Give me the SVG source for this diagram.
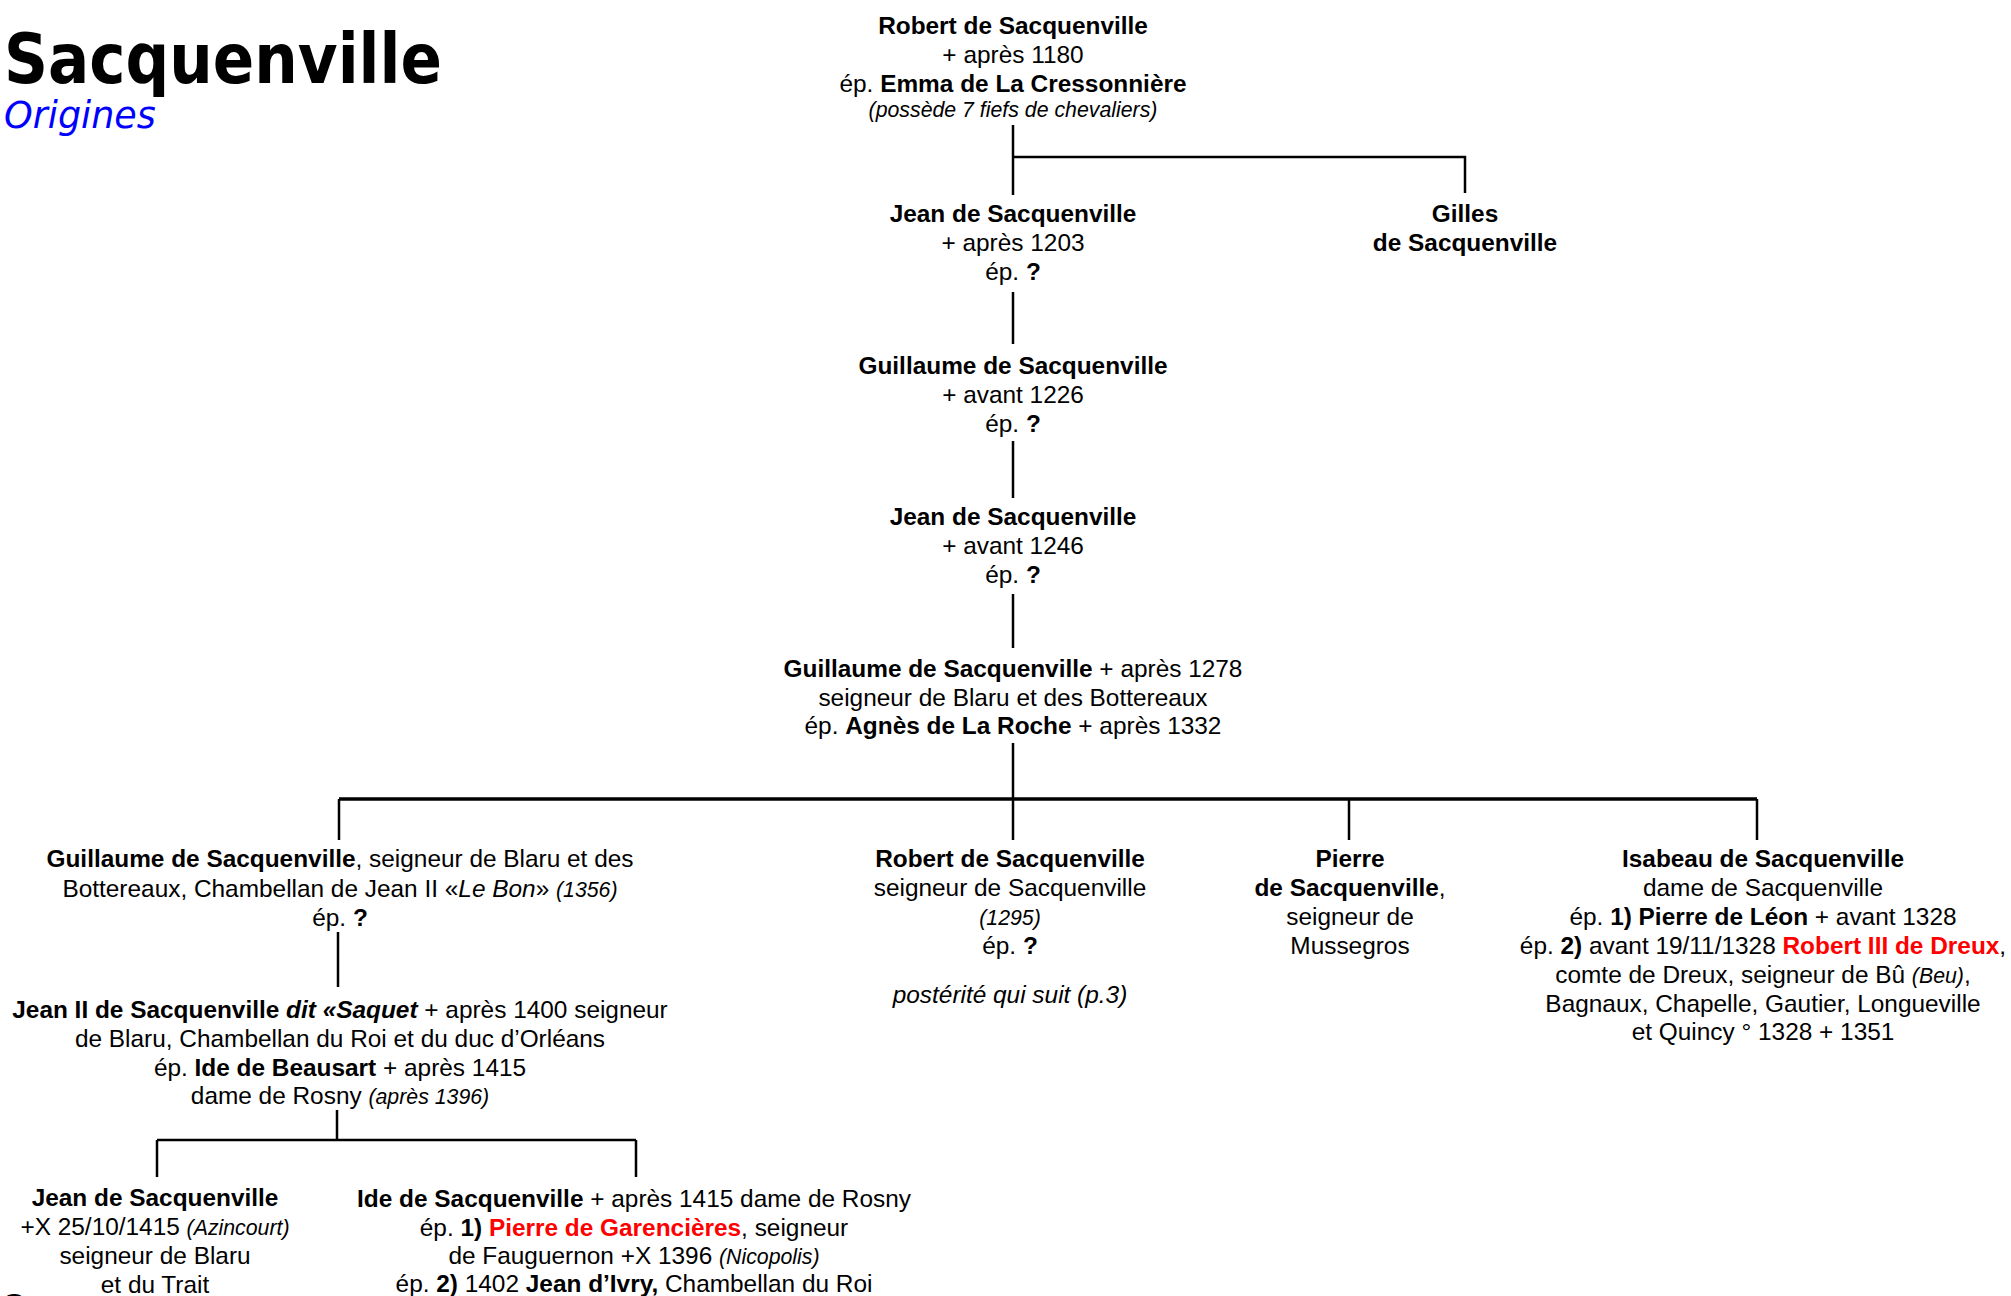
<svg xmlns="http://www.w3.org/2000/svg" width="2011" height="1296" viewBox="0 0 2011 1296">
<style>
text{font-family:"Liberation Sans",Arial,sans-serif;font-size:24.4px;fill:#000;text-anchor:middle}
.b{font-weight:bold}
.i{font-style:italic}
.s{font-size:21.3px;font-style:italic}
.r{fill:#ff0000;font-weight:bold}
.ln{stroke:#000;stroke-width:2.5;fill:none}
.title{font-family:"DejaVu Sans",Verdana,sans-serif;font-weight:bold;font-size:69px;text-anchor:start}
.sub{font-family:"DejaVu Sans",Verdana,sans-serif;font-style:italic;font-size:36.5px;fill:#0000ff;text-anchor:start}
</style>
<rect width="2011" height="1296" fill="#fff"/>
<g id="header">
<text class="title" x="4" y="83" textLength="438" lengthAdjust="spacingAndGlyphs">Sacquenville</text>
<text class="sub" x="4" y="128">Origines</text>
</g>
<g id="connectors">
<path class="ln" d="M1013 125V195M1013 157H1465V193"/>
<path class="ln" d="M1013 292V344"/>
<path class="ln" d="M1013 441V498"/>
<path class="ln" d="M1013 594V648"/>
<path class="ln" d="M1013 743V799"/>
<path d="M339 799H1757" stroke="#000" stroke-width="3.5"/>
<path class="ln" d="M339 799V840M1013 799V840M1349 799V840M1757 799V840"/>
<path class="ln" d="M338 932V987"/>
<path class="ln" d="M337 1110V1140M157 1140H636M157 1140V1177M636 1140V1177"/>
</g>
<g id="n-robert">
<text x="1013" y="34" class="b">Robert de Sacquenville</text>
<text x="1013" y="63">+ après 1180</text>
<text x="1013" y="92">ép. <tspan class="b">Emma de La Cressonnière</tspan></text>
<text x="1013" y="117" class="s">(possède 7 fiefs de chevaliers)</text>
</g>
<g id="n-jean1">
<text x="1013" y="222" class="b">Jean de Sacquenville</text>
<text x="1013" y="251">+ après 1203</text>
<text x="1013" y="280">ép. <tspan class="b">?</tspan></text>
</g>
<g id="n-gilles">
<text x="1465" y="222" class="b">Gilles</text>
<text x="1465" y="251" class="b">de Sacquenville</text>
</g>
<g id="n-guillaume1">
<text x="1013" y="374" class="b">Guillaume de Sacquenville</text>
<text x="1013" y="403">+ avant 1226</text>
<text x="1013" y="432">ép. <tspan class="b">?</tspan></text>
</g>
<g id="n-jean2">
<text x="1013" y="525" class="b">Jean de Sacquenville</text>
<text x="1013" y="554">+ avant 1246</text>
<text x="1013" y="583">ép. <tspan class="b">?</tspan></text>
</g>
<g id="n-guillaume2">
<text x="1013" y="677"><tspan class="b">Guillaume de Sacquenville</tspan> + après 1278</text>
<text x="1013" y="706">seigneur de Blaru et des Bottereaux</text>
<text x="1013" y="734">ép. <tspan class="b">Agnès de La Roche</tspan> + après 1332</text>
</g>
<g id="n-guillaume3">
<text x="340" y="867"><tspan class="b">Guillaume de Sacquenville</tspan>, seigneur de Blaru et des</text>
<text x="340" y="897">Bottereaux, Chambellan de Jean II «<tspan class="i">Le Bon</tspan>» <tspan class="s">(1356)</tspan></text>
<text x="340" y="926">ép. <tspan class="b">?</tspan></text>
</g>
<g id="n-robert2">
<text x="1010" y="867" class="b">Robert de Sacquenville</text>
<text x="1010" y="896">seigneur de Sacquenville</text>
<text x="1010" y="925" class="s">(1295)</text>
<text x="1010" y="954">ép. <tspan class="b">?</tspan></text>
<text x="1010" y="1003" class="i">postérité qui suit (p.3)</text>
</g>
<g id="n-pierre">
<text x="1350" y="867" class="b">Pierre</text>
<text x="1350" y="896"><tspan class="b">de Sacquenville</tspan>,</text>
<text x="1350" y="925">seigneur de</text>
<text x="1350" y="954">Mussegros</text>
</g>
<g id="n-isabeau">
<text x="1763" y="867" class="b">Isabeau de Sacquenville</text>
<text x="1763" y="896">dame de Sacquenville</text>
<text x="1763" y="925">ép. <tspan class="b">1) Pierre de Léon</tspan> + avant 1328</text>
<text x="1763" y="954">ép. <tspan class="b">2)</tspan> avant 19/11/1328 <tspan class="r">Robert III de Dreux</tspan>,</text>
<text x="1763" y="983">comte de Dreux, seigneur de Bû <tspan class="s">(Beu)</tspan>,</text>
<text x="1763" y="1012">Bagnaux, Chapelle, Gautier, Longueville</text>
<text x="1763" y="1040">et Quincy ° 1328 + 1351</text>
</g>
<g id="n-jean3">
<text x="340" y="1018"><tspan class="b">Jean II de Sacquenville <tspan class="i">dit «Saquet</tspan></tspan> + après 1400 seigneur</text>
<text x="340" y="1047">de Blaru, Chambellan du Roi et du duc d’Orléans</text>
<text x="340" y="1076">ép. <tspan class="b">Ide de Beausart</tspan> + après 1415</text>
<text x="340" y="1104">dame de Rosny <tspan class="s">(après 1396)</tspan></text>
</g>
<g id="n-jean4">
<text x="155" y="1206" class="b">Jean de Sacquenville</text>
<text x="155" y="1235">+X 25/10/1415 <tspan class="s">(Azincourt)</tspan></text>
<text x="155" y="1264">seigneur de Blaru</text>
<text x="155" y="1293">et du Trait</text>
</g>
<g id="n-ide">
<text x="634" y="1207"><tspan class="b">Ide de Sacquenville</tspan> + après 1415 dame de Rosny</text>
<text x="634" y="1236">ép. <tspan class="b">1)</tspan> <tspan class="r">Pierre de Garencières</tspan>, seigneur</text>
<text x="634" y="1264">de Fauguernon +X 1396 <tspan class="s">(Nicopolis)</tspan></text>
<text x="634" y="1292">ép. <tspan class="b">2)</tspan> 1402 <tspan class="b">Jean d’Ivry,</tspan> Chambellan du Roi</text>
</g>
<g id="page">
<text x="5" y="1316" style="font-family:'DejaVu Sans',sans-serif;font-weight:bold;font-size:30px;text-anchor:start">2</text>
</g>
</svg>
